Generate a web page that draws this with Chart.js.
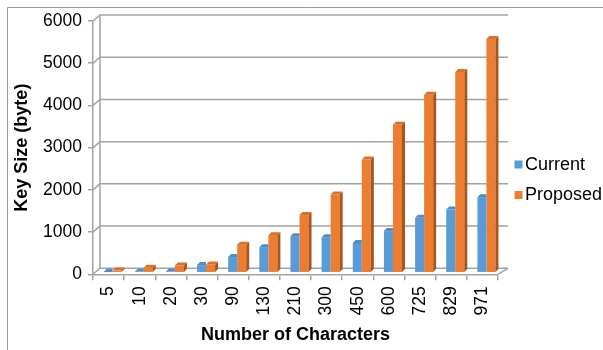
<!DOCTYPE html>
<html>
<head>
<meta charset="utf-8">
<script src="https://cdn.jsdelivr.net/npm/chart.js@4/dist/chart.umd.min.js"></script>
<style>
  html, body { margin: 0; padding: 0; background: #ffffff; }
  #wrap { width: 603px; height: 350px; }
</style>
</head>
<body>
<div id="wrap"><canvas id="keyChart" width="603" height="350"></canvas></div>
<script>
// Key size per message length
const categories = ['5', '10', '20', '30', '90', '130', '210', '300', '450', '600', '725', '829', '971'];
const currentKeySize = [15, 20, 30, 180, 370, 605, 865, 840, 705, 985, 1300, 1495, 1790];
const proposedKeySize = [50, 115, 170, 195, 665, 890, 1365, 1850, 2680, 3505, 4215, 4755, 5535];
const seriesNames = ['Current', 'Proposed'];
const yAxisMax = 6000;
const yAxisStep = 1000;

// Face colours for the pseudo-3D columns: [front, top, side]
const blueFaces = ['#5B9BD5', '#4E8CC6', '#3E6E9E'];
const orangeFaces = ['#ED7D31', '#D9702A', '#A9561C'];

const FONT = '"Liberation Sans", Arial, Helvetica, sans-serif';
const GRID = '#A3A3A3';

// wall / floor depth offsets
const WALL_DX_LEFT = 7, WALL_DX_RIGHT = 10, WALL_DY = 6;
// columns sit slightly behind the front edge
const BAR_SHIFT_X = 4, BAR_SHIFT_Y = -1.6, BAR_DEPTH = 3;

const frameAndWalls = {
  id: 'frameAndWalls',
  beforeDraw(chart) {
    const ctx = chart.ctx;
    ctx.save();
    ctx.fillStyle = '#ffffff';
    ctx.fillRect(0, 0, chart.width, chart.height);
    ctx.strokeStyle = '#9A9A9A';
    ctx.lineWidth = 1;
    ctx.beginPath();
    ctx.moveTo(7.5, chart.height);
    ctx.lineTo(7.5, 7.5);
    ctx.lineTo(chart.width, 7.5);
    ctx.stroke();
    ctx.restore();
  },
  beforeDatasetsDraw(chart) {
    const ctx = chart.ctx;
    const ys = chart.scales.y;
    const {left, right} = chart.chartArea;
    ctx.save();
    ctx.strokeStyle = GRID;
    ctx.lineWidth = 1.5;
    // back-wall gridlines with their links to the front axis
    ys.ticks.forEach(t => {
      const yf = ys.getPixelForValue(t.value);
      ctx.beginPath();
      ctx.moveTo(left, yf);
      ctx.lineTo(left + WALL_DX_LEFT, yf - WALL_DY);
      ctx.lineTo(right + WALL_DX_RIGHT, yf - WALL_DY);
      ctx.stroke();
    });
    // left wall back edge
    const yTop = ys.getPixelForValue(yAxisMax) - WALL_DY;
    const yBot = ys.getPixelForValue(0) - WALL_DY;
    ctx.beginPath();
    ctx.moveTo(left + WALL_DX_LEFT, yTop);
    ctx.lineTo(left + WALL_DX_LEFT, yBot);
    ctx.stroke();
    // floor right edge
    const y0 = ys.getPixelForValue(0);
    ctx.beginPath();
    ctx.moveTo(right, y0);
    ctx.lineTo(right + WALL_DX_RIGHT, y0 - WALL_DY);
    ctx.stroke();
    ctx.restore();
  },
  beforeDatasetDraw(chart) {
    chart.ctx.save();
    chart.ctx.translate(BAR_SHIFT_X, BAR_SHIFT_Y);
  },
  afterDatasetDraw(chart, args) {
    // series 1 (right column) is painted before series 0, so the left
    // column only gets a top face that stops at its own right edge
    const ctx = chart.ctx;
    const isLeft = args.index === 0;
    const faces = isLeft ? blueFaces : orangeFaces;
    const d = BAR_DEPTH;
    args.meta.data.forEach(el => {
      const {x, y, base, width} = el.getProps(['x', 'y', 'base', 'width'], true);
      const l = x - width / 2, r = x + width / 2;
      if (!isLeft) {
        ctx.fillStyle = faces[2];
        ctx.beginPath();
        ctx.moveTo(r, y);
        ctx.lineTo(r + d, y - d);
        ctx.lineTo(r + d, base - d);
        ctx.lineTo(r, base);
        ctx.closePath();
        ctx.fill();
      }
      ctx.fillStyle = faces[1];
      ctx.beginPath();
      ctx.moveTo(l, y);
      ctx.lineTo(l + d, y - d);
      ctx.lineTo(isLeft ? r : r + d, y - d);
      ctx.lineTo(r, y);
      ctx.closePath();
      ctx.fill();
    });
    ctx.restore();
  },
  afterDraw(chart) {
    // legend on the right
    const ctx = chart.ctx;
    ctx.save();
    ctx.font = '18px ' + FONT;
    ctx.textBaseline = 'middle';
    ctx.textAlign = 'left';
    const rows = [164.5, 195];
    chart.data.datasets.forEach((ds, i) => {
      ctx.fillStyle = ds.backgroundColor;
      ctx.fillRect(514.5, rows[i] - 4, 8, 8);
      ctx.fillStyle = '#000000';
      ctx.fillText(ds.label, 525, rows[i] + 0.5);
    });
    ctx.restore();
  }
};

new Chart(document.getElementById('keyChart'), {
  type: 'bar',
  data: {
    labels: categories,
    datasets: [
      { label: seriesNames[0], data: currentKeySize, backgroundColor: blueFaces[0], clip: false },
      { label: seriesNames[1], data: proposedKeySize, backgroundColor: orangeFaces[0], clip: false }
    ]
  },
  options: {
    responsive: false,
    animation: false,
    devicePixelRatio: 1,
    layout: { padding: { top: 21, right: 105, left: 0, bottom: 0 } },
    datasets: { bar: { categoryPercentage: 0.58, barPercentage: 1.0, borderWidth: 0 } },
    plugins: { legend: { display: false }, tooltip: { enabled: false } },
    scales: {
      x: {
        offset: true,
        grid: { display: true, drawOnChartArea: false, drawTicks: true, tickLength: 6, color: GRID, lineWidth: 1.5, offset: true },
        border: { display: true, color: GRID, width: 1.5 },
        ticks: { autoSkip: false, minRotation: 90, maxRotation: 90, padding: 6, color: '#000000', font: { family: FONT, size: 17.5 } },
        title: { display: true, text: 'Number of Characters', color: '#000000', font: { family: FONT, size: 18, weight: 'bold' }, padding: { top: 0, bottom: 4 } },
        afterFit(scale) { scale.height = 75.7; }
      },
      y: {
        min: 0,
        max: yAxisMax,
        ticks: { stepSize: yAxisStep, padding: 6, color: '#000000', font: { family: FONT, size: 17.5 }, callback: v => String(v) },
        grid: { display: true, drawOnChartArea: false, drawTicks: true, tickLength: 5, color: GRID, lineWidth: 1.5 },
        border: { display: true, color: GRID, width: 1.5 },
        title: { display: true, text: 'Key Size (byte)', color: '#000000', font: { family: FONT, size: 18, weight: 'bold' }, padding: { top: 11, bottom: 0 } },
        afterFit(scale) { scale.width = 93; }
      }
    }
  },
  plugins: [frameAndWalls]
});
</script>
</body>
</html>
